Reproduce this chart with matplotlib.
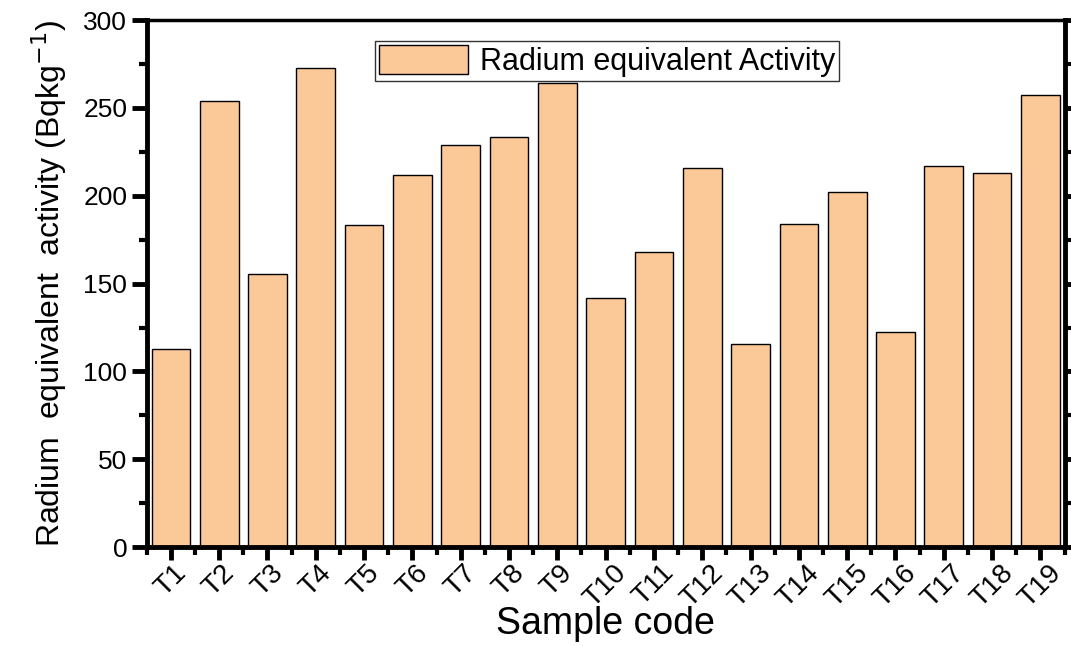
#!usr/bin/env python3

import matplotlib
matplotlib.use("Agg")
import matplotlib.pyplot as plt
from matplotlib.ticker import MultipleLocator, FixedLocator

plt.rcParams['font.family'] = ['Liberation Sans', 'DejaVu Sans']

samples = ["T1", "T2", "T3", "T4", "T5", "T6", "T7", "T8", "T9", "T10",
           "T11", "T12", "T13", "T14", "T15", "T16", "T17", "T18", "T19"]
ra_eq = [112.7, 253.8, 155.5, 272.8, 183.4, 211.6, 228.9, 233.3, 264.2, 141.8,
         168.0, 215.8, 115.8, 183.9, 202.0, 122.2, 217.1, 212.9, 257.6]


def main():
	fig = plt.figure(figsize=(10.71, 6.46), dpi=100)
	ax = fig.add_axes([0.137, 0.153, 0.857, 0.816])

	x = list(range(len(samples)))
	ax.bar(x, ra_eq, width=0.8, color="#FBC898", edgecolor="black", linewidth=1.0,
	       label="Radium equivalent Activity", zorder=2)

	ax.set_xlim(-0.5, len(samples) - 0.5)
	ax.set_ylim(0, 300)
	ax.set_xticks(x)
	ax.set_xticklabels(samples, rotation=45, ha="center")
	ax.xaxis.set_minor_locator(FixedLocator([i + 0.5 for i in range(-1, len(samples))]))
	ax.yaxis.set_major_locator(MultipleLocator(50))
	ax.yaxis.set_minor_locator(MultipleLocator(25))

	ax.tick_params(axis="both", which="major", direction="out", length=11, width=3.5,
	               labelsize=19, pad=3)
	ax.tick_params(axis="both", which="minor", direction="out", length=6, width=3)
	ax.tick_params(axis="y", which="both", right=True)
	ax.tick_params(axis="x", which="major", length=9, labelsize=20, pad=0)

	for side in ["left", "bottom", "right"]:
		ax.spines[side].set_linewidth(3.5)
	ax.spines["top"].set_linewidth(2.5)

	ax.set_xlabel("Sample code", fontsize=27, labelpad=-4)
	ax.set_ylabel("Radium  equivalent  activity (Bqkg$^{-1}$)", fontsize=23, labelpad=10)

	leg = ax.legend(loc="upper left", bbox_to_anchor=(0.249, 0.96), fontsize=22,
	                frameon=True, fancybox=False, edgecolor="black", handlelength=2.9,
	                handleheight=1.1, borderpad=0.12, handletextpad=0.4, borderaxespad=0)
	leg.get_frame().set_linewidth(1.0)

	fig.savefig("out.png", dpi=100)


if __name__ == "__main__":
	main()
